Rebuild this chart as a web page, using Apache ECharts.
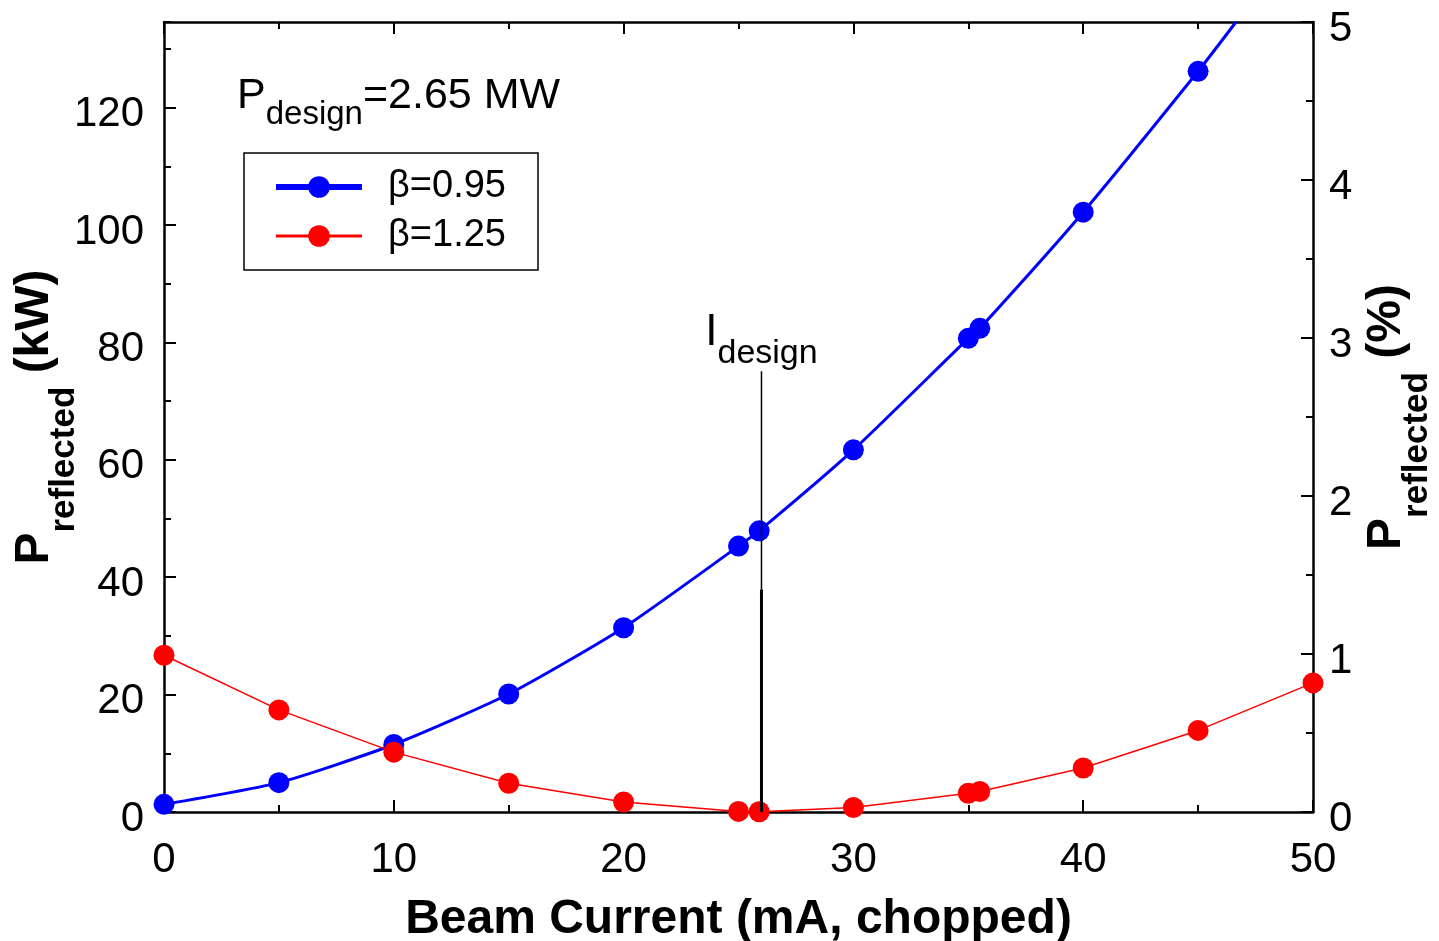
<!DOCTYPE html>
<html>
<head>
<meta charset="utf-8">
<script src="https://cdn.jsdelivr.net/npm/echarts@6/dist/echarts.min.js"></script>
<style>
  html, body { margin: 0; padding: 0; background: #fff; }
  #chart { width: 1439px; height: 941px; }
</style>
</head>
<body>
<div id="chart"></div>
<script>
const FONT = '"Liberation Sans", Arial, Helvetica, sans-serif';

// Beam current (mA, chopped) at each computed point, coupling beta = 0.95
const blueCurrents = [0, 5, 10, 15, 20, 25, 25.9, 30, 35, 35.5, 40, 45];
// Reflected power (kW), beta = 0.95
const bluePower = [1.3, 5.0, 11.5, 20.1, 31.4, 45.3, 47.9, 61.7, 80.7, 82.4, 102.2, 126.2];
// Where the beta = 0.95 curve runs out of the top of the plot
const blueCurveExit = [46.65, 134.6];

// Beam current (mA, chopped) at each computed point, coupling beta = 1.25
const redCurrents = [0, 5, 10, 15, 20, 25, 25.9, 30, 35, 35.5, 40, 45, 50];
// Reflected power (kW), beta = 1.25
const redPower = [26.7, 17.4, 10.2, 4.9, 1.7, 0.1, 0.05, 0.75, 3.2, 3.5, 7.5, 13.9, 22.0];

// Design current marker: its current and the kW levels where the thin and thick parts start
const designCurrent = 26;
const designMarkTop = 75.1;
const designMarkBreak = 37.9;

// Axis ranges and tick steps
const xRange = [0, 50];
const xStep = 10;
const kwRange = [0, 134.6];
const kwStep = 20;
const kwMinorStep = 10;
const pctRange = [0, 5];
const pctStep = 1;

const seriesNames = ['β=0.95', 'β=1.25'];

const zip = (xs, ys) => xs.map((x, i) => [x, ys[i]]);

const tickCommon = {
  axisLine: { show: true, onZero: false, lineStyle: { color: '#000', width: 2.5 } },
  axisTick: { show: true, inside: true, length: 12, lineStyle: { color: '#000', width: 2 } },
  splitLine: { show: false }
};

const labelStyle = { color: '#000', fontSize: 42, fontFamily: FONT };
// y tick labels sit a little below their ticks
const yLabelRich = { v: { color: '#000', fontSize: 42, fontFamily: FONT, padding: [14, 0, 0, 0] } };

const titleRich = {
  p: { fontSize: 48, fontWeight: 'bold', fontFamily: FONT, color: '#000' },
  s: { fontSize: 35, fontWeight: 'bold', fontFamily: FONT, color: '#000', padding: [60, 0, 0, 0] }
};

const chart = echarts.init(document.getElementById('chart'), null, { renderer: 'canvas' });

chart.setOption({
  backgroundColor: '#fff',
  animation: false,
  grid: { left: 164, right: 126, top: 22, bottom: 129, containLabel: false, outerBoundsMode: 'none' },
  legend: {
    left: 244,
    top: 153,
    orient: 'vertical',
    padding: [14, 32, 14, 29],
    itemWidth: 86,
    itemHeight: 27,
    itemGap: 9,
    borderColor: '#000',
    borderWidth: 1.5,
    borderRadius: 0,
    selectedMode: false,
    textStyle: { color: '#000', fontSize: 38, fontFamily: FONT, lineHeight: 40, padding: [0, 0, 0, 21] },
    data: [
      { name: seriesNames[0], lineStyle: { width: 6 } },
      { name: seriesNames[1], lineStyle: { width: 3 } }
    ]
  },
  xAxis: [
    Object.assign({}, tickCommon, {
      type: 'value', position: 'bottom',
      min: xRange[0], max: xRange[1], interval: xStep,
      minorTick: { show: true, splitNumber: 2, length: 7, lineStyle: { color: '#000', width: 2 } },
      axisLabel: Object.assign({ margin: 27 }, labelStyle),
      name: 'Beam Current (mA, chopped)',
      nameLocation: 'middle',
      nameGap: 84,
      nameMoveOverlap: false,
      nameTextStyle: { color: '#000', fontSize: 48, fontWeight: 'bold', fontFamily: FONT }
    }),
    Object.assign({}, tickCommon, {
      type: 'value', position: 'top',
      min: xRange[0], max: xRange[1], interval: xStep,
      minorTick: { show: true, splitNumber: 2, length: 7, lineStyle: { color: '#000', width: 2 } },
      axisLabel: { show: false }
    })
  ],
  yAxis: [
    Object.assign({}, tickCommon, {
      type: 'value', position: 'left',
      min: kwRange[0], max: kwRange[1], interval: kwStep,
      axisLabel: { margin: 20, showMaxLabel: false, formatter: '{v|{value}}', rich: yLabelRich },
      name: '{p|P}{s|reflected}{p| (kW)}',
      nameLocation: 'middle',
      nameRotate: 90,
      nameGap: 82,
      nameMoveOverlap: false,
      nameTextStyle: { rich: titleRich }
    }),
    {
      type: 'value', position: 'left',
      min: kwRange[0], max: kwRange[1], interval: kwMinorStep,
      axisLine: { show: false, onZero: false },
      axisTick: { show: true, inside: true, length: 7, lineStyle: { color: '#000', width: 2 } },
      axisLabel: { show: false },
      splitLine: { show: false }
    },
    Object.assign({}, tickCommon, {
      type: 'value', position: 'right',
      min: pctRange[0], max: pctRange[1], interval: pctStep,
      minorTick: { show: true, splitNumber: 2, length: 7, lineStyle: { color: '#000', width: 2 } },
      axisLabel: { margin: 16, formatter: '{v|{value}}', rich: yLabelRich },
      name: '{p|P}{s|reflected}{p| (%)}',
      nameLocation: 'middle',
      nameRotate: 90,
      nameGap: 22,
      nameTextStyle: { rich: titleRich }
    })
  ],
  graphic: [
    {
      type: 'text',
      left: 237,
      top: 75,
      style: {
        text: '{a|P}{b|design}{a|=2.65 MW}',
        fill: '#000',
        rich: {
          a: { fontSize: 43, fontFamily: FONT, fill: '#000' },
          b: { fontSize: 33, fontFamily: FONT, fill: '#000', padding: [36, 0, 0, 0] }
        }
      }
    }
  ],
  series: [
    {
      name: seriesNames[0],
      type: 'line',
      xAxisIndex: 0, yAxisIndex: 0,
      smooth: 0.2,
      symbol: 'circle',
      symbolSize: 21,
      color: '#0000ff',
      lineStyle: { color: '#0000ff', width: 3 },
      itemStyle: { color: '#0000ff' },
      data: zip(blueCurrents, bluePower).concat([{ value: blueCurveExit, symbol: 'none' }]),
      z: 4
    },
    {
      name: seriesNames[1],
      type: 'line',
      xAxisIndex: 0, yAxisIndex: 0,
      symbol: 'circle',
      symbolSize: 21,
      color: '#ff0000',
      lineStyle: { color: '#ff0000', width: 1.5 },
      itemStyle: { color: '#ff0000' },
      data: zip(redCurrents, redPower),
      z: 5
    },
    {
      name: 'design-thin',
      type: 'line',
      xAxisIndex: 0, yAxisIndex: 0,
      symbol: 'none',
      silent: true,
      lineStyle: { color: '#000', width: 1.5 },
      data: [[designCurrent, designMarkTop], [designCurrent, designMarkBreak]],
      z: 6
    },
    {
      name: 'design-thick',
      type: 'line',
      xAxisIndex: 0, yAxisIndex: 0,
      symbol: 'none',
      silent: true,
      lineStyle: { color: '#000', width: 3 },
      data: [[designCurrent, designMarkBreak], [designCurrent, 0]],
      z: 6
    },
    {
      name: 'design-label',
      type: 'scatter',
      xAxisIndex: 0, yAxisIndex: 0,
      symbolSize: 1,
      silent: true,
      itemStyle: { color: 'rgba(0,0,0,0)' },
      label: {
        show: true,
        position: 'top',
        distance: 0,
        color: '#000',
        opacity: 1,
        formatter: '{i|I}{d|design}',
        rich: {
          i: { fontSize: 44, fontFamily: FONT, color: '#000' },
          d: { fontSize: 34, fontFamily: FONT, color: '#000', padding: [41, 0, 0, 0] }
        }
      },
      data: [[designCurrent, designMarkTop]],
      z: 6
    }
  ]
});
</script>
</body>
</html>
